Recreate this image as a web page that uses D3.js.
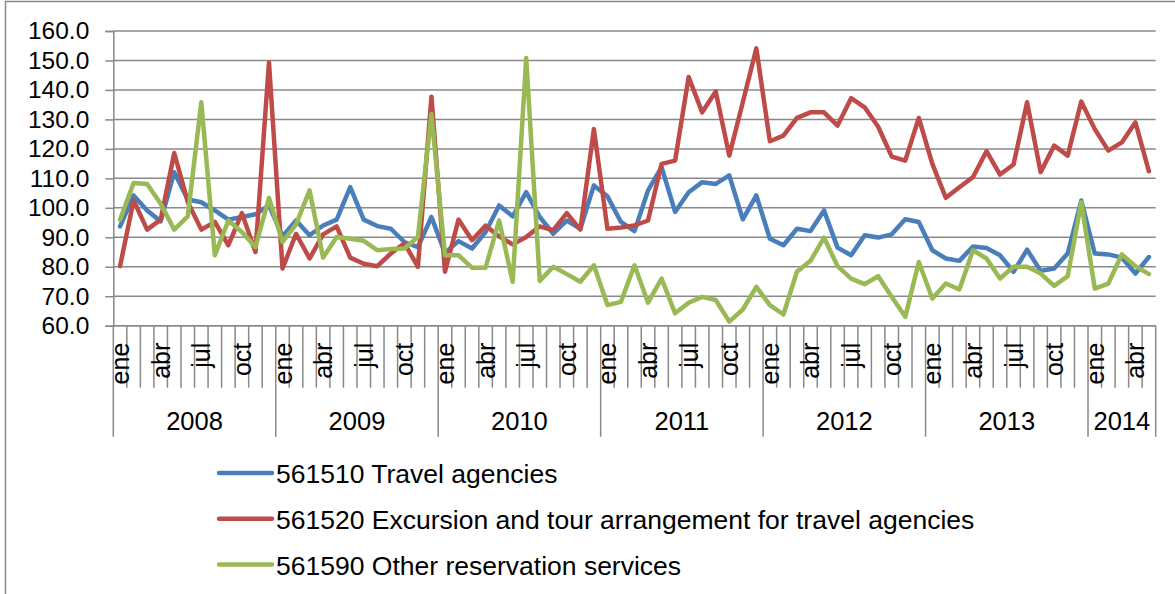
<!DOCTYPE html>
<html>
<head>
<meta charset="utf-8">
<script src="https://cdn.jsdelivr.net/npm/d3@7"></script>
<style>
  body { margin: 0; background: #fff; }
  svg text { font-family: "Liberation Sans", Arial, sans-serif; fill: #000; }
</style>
</head>
<body>
<div id="chart"></div>
<script>
'use strict';

// months and years on the category axis
var monthNames = ['ene', 'feb', 'mar', 'abr', 'may', 'jun', 'jul', 'ago', 'sep', 'oct', 'nov', 'dic'];
var years = [2008, 2009, 2010, 2011, 2012, 2013, 2014];
var monthsInYear = [12, 12, 12, 12, 12, 12, 5];
var yTicks = [60, 70, 80, 90, 100, 110, 120, 130, 140, 150, 160];

var seriesNames = [
  '561510 Travel agencies',
  '561520 Excursion and tour arrangement for travel agencies',
  '561590 Other reservation services'
];

var travelAgencies = [
  93.7, 104.2, 99.1, 95.4, 112.1, 102.8, 101.9, 99.1, 96.0, 96.9, 97.8, 100.8,
  90.3, 95.7, 90.7, 94.0, 96.0, 107.0, 96.0, 93.8, 92.9, 88.4, 86.7, 96.9,
  84.7, 88.7, 86.2, 91.8, 100.8, 97.1, 105.3, 96.9, 91.2, 95.7, 92.9, 107.6,
  103.9, 95.2, 92.1, 105.9, 113.8, 98.6, 105.3, 108.7, 108.1, 111.0, 96.1, 104.2,
  89.5, 87.3, 92.9, 92.1, 99.1, 86.5, 83.9, 90.7, 89.9, 91.0, 96.1, 95.2,
  85.6, 82.8, 82.0, 86.9, 86.4, 83.9, 78.3, 85.8, 78.6, 79.4, 84.5, 102.5,
  84.5, 84.2, 83.1, 77.7, 83.3
];

var excursionTours = [
  80.2, 102.5, 92.6, 96.0, 118.6, 102.0, 92.6, 95.2, 87.3, 98.2, 85.0, 149.3,
  79.4, 91.2, 82.8, 91.0, 93.7, 83.1, 81.0, 80.2, 84.5, 88.0, 80.0, 137.7,
  78.3, 96.0, 89.0, 94.0, 90.3, 87.6, 90.1, 93.7, 92.4, 98.2, 92.6, 126.7,
  92.9, 93.3, 94.0, 95.7, 114.9, 116.0, 144.4, 132.4, 139.5, 117.7, 135.8, 154.1,
  122.6, 124.5, 130.5, 132.4, 132.4, 127.9, 137.2, 134.1, 127.5, 117.4, 116.0, 130.5,
  114.9, 103.4, 107.0, 110.4, 119.2, 111.3, 114.7, 135.8, 112.1, 121.1, 117.7, 136.1,
  126.7, 119.4, 122.2, 129.0, 112.4
];

var otherReservation = [
  96.0, 108.4, 108.1, 101.4, 92.6, 97.1, 135.8, 83.9, 95.7, 91.8, 86.7, 103.4,
  88.4, 94.4, 105.9, 83.1, 90.1, 89.5, 88.8, 85.6, 86.0, 86.2, 90.1, 131.8,
  83.9, 83.9, 79.7, 79.7, 95.7, 74.9, 150.8, 75.2, 80.0, 77.5, 74.9, 80.5,
  67.0, 68.1, 80.5, 67.8, 76.0, 64.2, 67.8, 69.8, 68.7, 61.4, 65.5, 73.2,
  67.0, 63.8, 78.3, 82.0, 89.9, 80.2, 76.0, 74.1, 76.8, 69.8, 63.0, 81.6,
  69.2, 74.3, 72.3, 85.6, 82.8, 76.0, 80.0, 80.0, 77.7, 73.5, 76.8, 101.9,
  72.6, 74.3, 84.2, 80.2, 77.5
];

var colors = ['#4a7ebb', '#be4b48', '#98b954'];

var width = 1175, height = 594;
var margin = {top: 31, right: 19.3, bottom: 268.3, left: 113.3};
var innerWidth = width - margin.left - margin.right;
var innerHeight = height - margin.top - margin.bottom;
var gridColor = '#898989';

var series = [travelAgencies, excursionTours, otherReservation];

// build month list from years
var months = [];
years.forEach(function(y, yi) {
  for (var m = 0; m < monthsInYear[yi]; m++) months.push({year: y, month: m});
});

var svg = d3.select('#chart').append('svg')
  .attr('width', width)
  .attr('height', height);

// outer frame (left and top edges visible)
svg.append('path')
  .attr('d', 'M5.5,' + height + 'V1.5H' + width)
  .attr('fill', 'none')
  .attr('stroke', gridColor)
  .attr('stroke-width', 1.5);

var chart = svg.append('g')
  .attr('transform', 'translate(' + margin.left + ',' + margin.top + ')');

var x = d3.scaleBand()
  .domain(d3.range(months.length))
  .range([0, innerWidth])
  .padding(0);

var y = d3.scaleLinear()
  .domain([60, 160])
  .range([innerHeight, 0]);

// gridlines
chart.selectAll('line.grid')
  .data(yTicks)
  .enter()
  .append('line')
  .attr('class', 'grid')
  .attr('x1', 0)
  .attr('x2', innerWidth)
  .attr('y1', function(d) { return y(d); })
  .attr('y2', function(d) { return y(d); })
  .attr('stroke', gridColor)
  .attr('stroke-width', 1.5);

// y axis
var yAxis = d3.axisLeft(y)
  .tickValues(yTicks)
  .tickSize(8)
  .tickPadding(16)
  .tickFormat(d3.format('.1f'));

var yG = chart.append('g').call(yAxis);
yG.select('.domain').attr('stroke', gridColor).attr('stroke-width', 1.5);
yG.selectAll('.tick line').attr('stroke', gridColor).attr('stroke-width', 1.5);
yG.selectAll('.tick text')
  .attr('font-size', 24.5)
  .attr('font-family', '"Liberation Sans", Arial, sans-serif')
  .attr('fill', '#000');

// x axis: month ticks, year dividers
var xg = chart.append('g').attr('transform', 'translate(0,' + innerHeight + ')');
var bw = x.bandwidth();

xg.selectAll('line.mtick')
  .data(d3.range(months.length + 1))
  .enter()
  .append('line')
  .attr('class', 'mtick')
  .attr('x1', function(i) { return i * bw; })
  .attr('x2', function(i) { return i * bw; })
  .attr('y1', 0)
  .attr('y2', function(i) {
    var isYear = i === months.length || (i < months.length && months[i].month === 0);
    return isYear ? 111 : 62;
  })
  .attr('stroke', gridColor)
  .attr('stroke-width', 1.5);

xg.append('line')
  .attr('x1', 0).attr('x2', innerWidth)
  .attr('y1', 0).attr('y2', 0)
  .attr('stroke', gridColor)
  .attr('stroke-width', 1.5);

xg.selectAll('text.month')
  .data(months.map(function(d, i) { return {d: d, i: i}; })
    .filter(function(o) { return o.d.month % 3 === 0; }))
  .enter()
  .append('text')
  .attr('class', 'month')
  .attr('font-size', 25)
  .attr('text-anchor', 'end')
  .attr('transform', function(o) {
    return 'translate(' + (x(o.i) + bw / 2 + 9) + ',17) rotate(-90)';
  })
  .text(function(o) { return monthNames[o.d.month]; });

var start = 0;
var yearPos = years.map(function(yr, yi) {
  var s = start;
  start += monthsInYear[yi];
  return {year: yr, from: s, to: start};
});

xg.selectAll('text.year')
  .data(yearPos)
  .enter()
  .append('text')
  .attr('class', 'year')
  .attr('font-size', 25.5)
  .attr('text-anchor', 'middle')
  .attr('x', function(d) { return (d.from + d.to) / 2 * bw; })
  .attr('y', 104)
  .text(function(d) { return d.year; });

// lines
var line = d3.line()
  .x(function(d, i) { return x(i) + bw / 2; })
  .y(function(d) { return y(d); });

chart.selectAll('path.series')
  .data(series)
  .enter()
  .append('path')
  .attr('class', 'series')
  .attr('fill', 'none')
  .attr('stroke', function(d, i) { return colors[i]; })
  .attr('stroke-width', 4.5)
  .attr('stroke-linejoin', 'round')
  .attr('stroke-linecap', 'round')
  .attr('d', line);

// legend
var legend = svg.append('g').attr('transform', 'translate(218,473)');
var rows = legend.selectAll('g')
  .data(seriesNames)
  .enter()
  .append('g')
  .attr('transform', function(d, i) { return 'translate(0,' + (i * 45.8) + ')'; });

rows.append('line')
  .attr('x1', 1).attr('x2', 54)
  .attr('y1', 0).attr('y2', 0)
  .attr('stroke', function(d, i) { return colors[i]; })
  .attr('stroke-width', 4.5)
  .attr('stroke-linecap', 'round');

rows.append('text')
  .attr('x', 58)
  .attr('y', 10)
  .attr('font-size', 26.5)
  .text(function(d) { return d; });
</script>
</body>
</html>
